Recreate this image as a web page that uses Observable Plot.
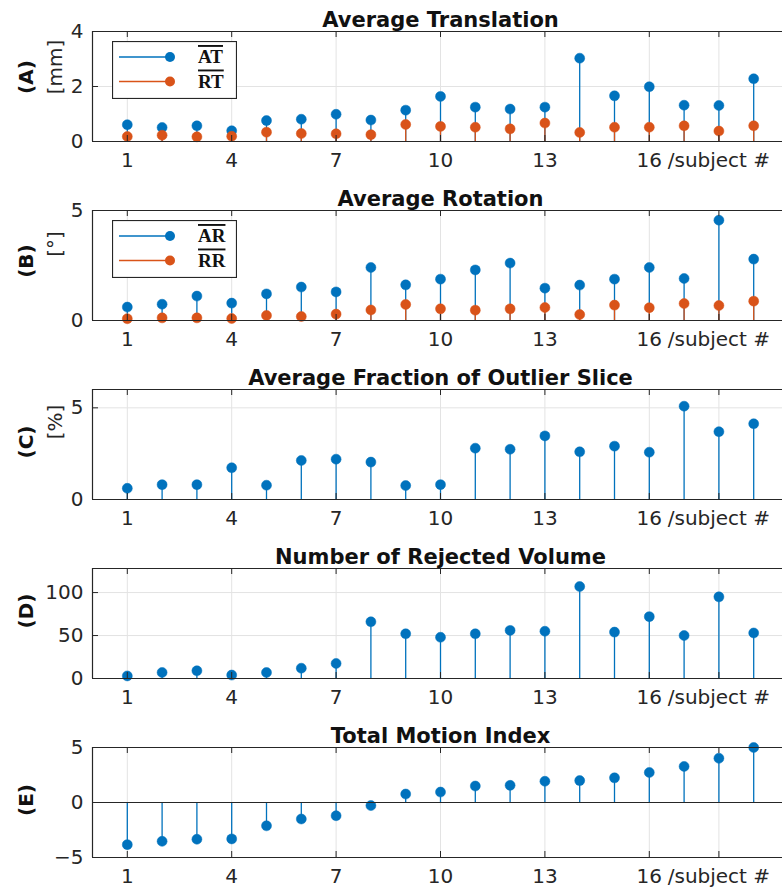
<!DOCTYPE html>
<html>
<head>
<meta charset="utf-8">
<script src="https://cdn.jsdelivr.net/npm/d3@7"></script>
<script src="https://cdn.jsdelivr.net/npm/@observablehq/plot@0.6"></script>
<style>
  body { margin: 0; background: #fff; width: 782px; overflow: hidden; }
  .panel { position: relative; width: 782px; height: 179px; }
  .panel svg { display: block; }
  .legend { position: absolute; left: 112px; top: 41px; }
</style>
</head>
<body>
<div id="chart"></div>
<script>
// ---------- data ----------
const subjects = [1, 2, 3, 4, 5, 6, 7, 8, 9, 10, 11, 12, 13, 14, 15, 16, 17, 18, 19];
const avgTranslationAT = [0.61, 0.51, 0.57, 0.39, 0.76, 0.81, 0.99, 0.78, 1.14, 1.64, 1.25, 1.18, 1.25, 3.03, 1.66, 1.99, 1.32, 1.31, 2.28];
const avgTranslationRT = [0.18, 0.23, 0.17, 0.19, 0.34, 0.29, 0.28, 0.25, 0.62, 0.55, 0.52, 0.46, 0.67, 0.33, 0.52, 0.52, 0.57, 0.38, 0.57];
const avgRotationAR = [0.61, 0.74, 1.11, 0.79, 1.21, 1.52, 1.30, 2.41, 1.62, 1.88, 2.30, 2.61, 1.47, 1.61, 1.88, 2.41, 1.91, 4.56, 2.79];
const avgRotationRR = [0.08, 0.12, 0.12, 0.09, 0.23, 0.18, 0.29, 0.48, 0.73, 0.53, 0.47, 0.53, 0.59, 0.27, 0.70, 0.58, 0.77, 0.68, 0.88];
const outlierFraction = [0.61, 0.81, 0.81, 1.73, 0.78, 2.13, 2.20, 2.04, 0.76, 0.81, 2.80, 2.74, 3.47, 2.60, 2.91, 2.58, 5.09, 3.70, 4.13];
const rejectedVolumes = [3, 7, 9, 4, 7, 12, 17.5, 66, 52, 48, 52, 56, 55, 107, 54, 72, 50, 95, 53];
const motionIndex = [-3.83, -3.53, -3.34, -3.31, -2.12, -1.50, -1.20, -0.28, 0.77, 0.95, 1.50, 1.56, 1.93, 1.99, 2.24, 2.73, 3.28, 4.02, 5.0];

const xTickValues = [1, 4, 7, 10, 13, 16, 18];
const xTickLabels = ["1", "4", "7", "10", "13", "16", "/subject #"];

const titles = ["Average Translation", "Average Rotation", "Average Fraction of Outlier Slice", "Number of Rejected Volume", "Total Motion Index"];
const letters = ["(A)", "(B)", "(C)", "(D)", "(E)"];
const units = ["[mm]", "[°]", "[%]", "", ""];
const yDomains = [[0, 4], [0, 5], [0, 6], [0, 128], [-5, 5]];
const yTicksList = [[0, 2, 4], [0, 5], [0, 5], [0, 50, 100], [-5, 0, 5]];
const legendNames = [["AT", "RT"], ["AR", "RR"], null, null, null];
const seriesList = [
  [avgTranslationAT, avgTranslationRT],
  [avgRotationAR, avgRotationRR],
  [outlierFraction],
  [rejectedVolumes],
  [motionIndex]
];

// ---------- style ----------
const colors = ["#0072BD", "#D95319"];
const axisColor = "#262626";
const gridColor = "#e3e3e3";
const W = 782, H = 179, mTop = 31, mBottom = 38, mLeft = 92;
const frameH = H - mTop - mBottom;
const tickLen = 6;
const labelOffsets = [[-9, -19], [-4, -21], [-2, -22], [-12, 0], [-2, 0]]; // letter, unit offsets from frame middle
const tickLabelMap = new Map(xTickValues.map((v, i) => [v, xTickLabels[i]]));

const root = d3.select("#chart");

seriesList.forEach((series, p) => {
  const [y0, y1] = yDomains[p];
  const yTicks = yTicksList[p];
  const innerTicks = yTicks.filter(t => t !== y0 && t !== y1);
  const marks = [
    Plot.gridX(xTickValues, {stroke: gridColor, strokeOpacity: 1}),
    Plot.gridY(innerTicks, {stroke: gridColor, strokeOpacity: 1})
  ];
  series.forEach((vals, s) => {
    const data = subjects.map((d, i) => ({subject: d, value: vals[i]}));
    marks.push(Plot.ruleX(data, {x: "subject", y1: 0, y2: "value", stroke: colors[s], strokeWidth: 1.3}));
    marks.push(Plot.dot(data, {x: "subject", y: "value", r: 5, fill: colors[s], stroke: colors[s], strokeWidth: 0.5}));
  });
  marks.push(
    Plot.ruleY([y0], {stroke: axisColor, strokeWidth: 1.2}),
    Plot.ruleY([y1], {stroke: axisColor, strokeWidth: 1.2}),
    Plot.ruleX([0], {stroke: axisColor, strokeWidth: 1.2}),
    Plot.ruleX(xTickValues, {stroke: axisColor, insetTop: frameH - tickLen}),
    Plot.ruleX(xTickValues, {stroke: axisColor, insetBottom: frameH - tickLen}),
    Plot.ruleY(yTicks, {stroke: axisColor, insetRight: (W - mLeft) - tickLen}),
    Plot.axisX(xTickValues, {tickSize: 0, tickPadding: 11, tickFormat: d => tickLabelMap.get(d), fontSize: 20, fill: axisColor, label: null}),
    Plot.axisY(yTicks, {tickSize: 0, tickPadding: 9, fontSize: 20, fill: axisColor, label: null}),
    Plot.text([titles[p]], {frameAnchor: "top", dx: 3, dy: -5, lineAnchor: "bottom", fontWeight: "bold", fontSize: 21, fill: "#111"})
  );
  if (y0 < 0) marks.push(Plot.ruleY([0], {stroke: axisColor, strokeWidth: 1.2}));

  const plot = Plot.plot({
    width: W, height: H,
    marginTop: mTop, marginBottom: mBottom, marginLeft: mLeft, marginRight: 0,
    x: {domain: [0, 20], range: [mLeft, 788], axis: null, label: null},
    y: {domain: yDomains[p], axis: null, label: null},
    style: {fontFamily: "DejaVu Sans", fontSize: "20px", color: axisColor, background: "#fff", overflow: "visible"},
    marks
  });

  const panel = root.append("div").attr("class", "panel");
  panel.node().appendChild(plot);

  // y labels (rotated)
  const svg = d3.select(plot);
  const mid = mTop + frameH / 2;
  const [offL, offU] = labelOffsets[p];
  svg.append("text")
    .attr("transform", `translate(26,${mid + offL}) rotate(-90)`)
    .attr("text-anchor", "middle").attr("dy", "0.35em")
    .attr("font-family", "DejaVu Sans").attr("font-weight", "bold").attr("font-size", 20)
    .attr("fill", "#111").text(letters[p]);
  if (units[p]) {
    svg.append("text")
      .attr("transform", `translate(55,${mid + offU}) rotate(-90)`)
      .attr("text-anchor", "middle").attr("dy", "0.35em")
      .attr("font-family", "DejaVu Sans").attr("font-size", 20)
      .attr("fill", axisColor).text(units[p]);
  }

  // legend
  if (legendNames[p]) {
    const lg = panel.append("svg").attr("class", "legend")
      .attr("width", 125).attr("height", 58);
    lg.append("rect").attr("x", 0.5).attr("y", 0.5).attr("width", 124).attr("height", 57)
      .attr("fill", "#fff").attr("stroke", axisColor).attr("stroke-width", 1.2);
    legendNames[p].forEach((name, s) => {
      const yy = 16 + s * 24.5;
      lg.append("line").attr("x1", 7).attr("x2", 58).attr("y1", yy).attr("y2", yy)
        .attr("stroke", colors[s]).attr("stroke-width", 1.3);
      lg.append("circle").attr("cx", 58).attr("cy", yy).attr("r", 5).attr("fill", colors[s]);
      lg.append("text").attr("x", 86).attr("y", yy + 6)
        .attr("font-family", "Liberation Serif").attr("font-weight", "bold").attr("font-size", 19)
        .attr("fill", "#111").style("text-decoration", "overline").text(name);
    });
  }
});
</script>
</body>
</html>
